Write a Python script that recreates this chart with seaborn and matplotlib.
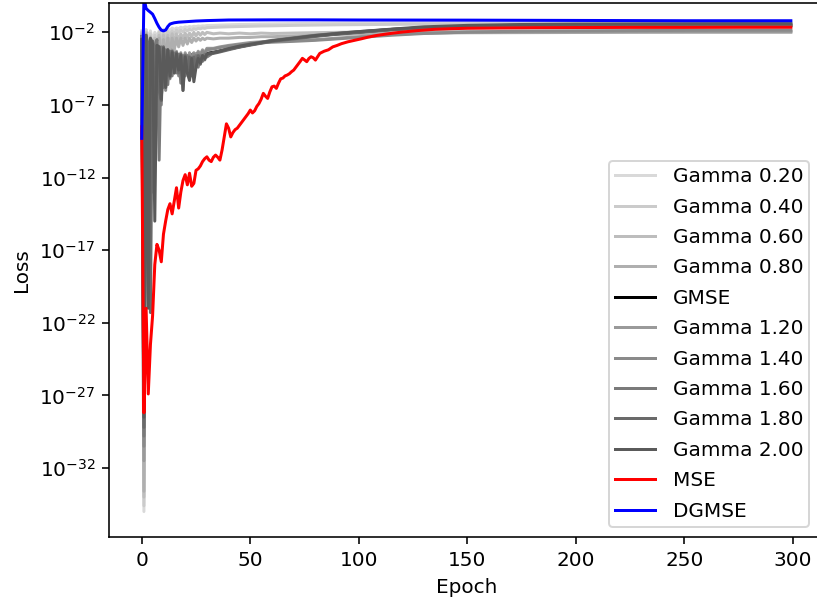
import numpy as np
import pandas as pd
import matplotlib
matplotlib.use("Agg")
import matplotlib.pyplot as plt
from matplotlib.ticker import FixedLocator, NullLocator, LogFormatterSciNotation
import seaborn as sns

# Loss curves are stored as log10(loss) at the listed epochs.
gamma_epochs = list(range(0, 31)) + [33, 36, 40, 45, 50, 55, 60, 70, 80, 90, 100,
                                     115, 130, 150, 175, 200, 225, 250, 275, 299]

gamma_020 = [-1.9, -35.0, -1.8, -2.4, -1.9, -2.6, -2.0, -2.3, -1.9, -2.1, -1.8,
             -2.0, -1.75, -1.9, -1.7, -1.8, -1.7, -1.75, -1.65, -1.7, -1.62,
             -1.66, -1.6, -1.63, -1.58, -1.6, -1.56, -1.58, -1.55, -1.56, -1.53,
             -1.52, -1.5, -1.48, -1.46, -1.45, -1.43, -1.42, -1.4, -1.38, -1.37,
             -1.36, -1.35, -1.34, -1.33, -1.32, -1.32, -1.31, -1.31, -1.3, -1.3]
gamma_040 = [-2.0, -34.6, -1.9, -3.0, -2.1, -3.2, -2.2, -2.9, -2.0, -2.6, -2.0,
             -2.4, -1.95, -2.2, -1.9, -2.1, -1.85, -2.0, -1.85, -1.95, -1.8,
             -1.9, -1.78, -1.85, -1.75, -1.8, -1.72, -1.76, -1.7, -1.73, -1.68,
             -1.66, -1.64, -1.62, -1.6, -1.58, -1.56, -1.55, -1.52, -1.5, -1.48,
             -1.47, -1.45, -1.44, -1.43, -1.42, -1.41, -1.41, -1.4, -1.4, -1.4]
gamma_060 = [-2.1, -34.0, -2.0, -4.0, -2.3, -4.2, -2.4, -3.6, -2.2, -3.3, -2.2,
             -3.0, -2.2, -2.8, -2.1, -2.6, -2.1, -2.5, -2.1, -2.4, -2.05,
             -2.35, -2.05, -2.3, -2.0, -2.25, -2.0, -2.2, -2.0, -2.15, -2.0,
             -2.1, -2.05, -2.1, -2.05, -2.1, -2.05, -2.08, -2.05, -2.02, -2.0,
             -1.98, -1.96, -1.95, -1.93, -1.92, -1.92, -1.91, -1.9, -1.9, -1.9]
gamma_080 = [-2.2, -33.6, -2.1, -6.0, -2.5, -5.5, -2.6, -4.8, -2.4, -4.2, -2.5,
             -3.8, -2.4, -3.5, -2.4, -3.2, -2.4, -3.0, -2.4, -2.9, -2.4,
             -2.8, -2.4, -2.7, -2.4, -2.6, -2.4, -2.55, -2.4, -2.5, -2.4,
             -2.45, -2.4, -2.4, -2.35, -2.35, -2.3, -2.3, -2.25, -2.2, -2.15,
             -2.1, -2.08, -2.05, -2.03, -2.02, -2.01, -2.0, -2.0, -2.0, -2.0]
gmse = [-2.3, -27.5, -2.4, -9.0, -3.0, -8.0, -3.3, -7.0, -3.4, -6.0, -3.5,
        -5.2, -3.6, -4.8, -3.7, -4.5, -3.8, -4.3, -3.8, -4.1, -3.8,
        -3.9, -3.5, -3.6, -3.45, -3.55, -3.4, -3.5, -3.45, -3.5, -3.45,
        -3.38, -3.28, -3.15, -3.0, -2.85, -2.72, -2.6, -2.42, -2.25, -2.1,
        -1.98, -1.8, -1.68, -1.6, -1.55, -1.55, -1.55, -1.55, -1.55, -1.55]
gamma_120 = [-2.3, -31.5, -2.2, -12.0, -2.5, -9.0, -2.8, -8.0, -3.0, -6.5, -3.0,
             -5.8, -3.2, -5.0, -3.2, -4.6, -3.3, -4.5, -3.4, -4.3, -3.4,
             -4.0, -3.4, -3.9, -3.4, -3.7, -3.3, -3.5, -3.2, -3.4, -3.1,
             -3.1, -3.0, -2.9, -2.8, -2.7, -2.65, -2.6, -2.55, -2.5, -2.4,
             -2.3, -2.15, -2.05, -2.0, -1.98, -1.97, -1.96, -1.95, -1.95, -1.95]
gamma_140 = [-2.4, -30.5, -2.3, -14.0, -2.6, -11.0, -2.9, -7.5, -3.0, -7.0, -3.1,
             -6.0, -3.3, -5.2, -3.3, -4.8, -3.4, -5.0, -3.5, -6.0, -3.5,
             -4.5, -3.6, -4.2, -3.5, -4.0, -3.4, -3.7, -3.3, -3.5, -3.2,
             -3.15, -3.05, -2.95, -2.85, -2.78, -2.72, -2.68, -2.62, -2.55, -2.45,
             -2.35, -2.2, -2.08, -1.98, -1.92, -1.9, -1.88, -1.86, -1.85, -1.85]
gamma_160 = [-2.4, -29.8, -2.2, -16.0, -2.8, -13.0, -3.0, -2.5, -10.8, -3.0, -5.8,
             -3.2, -5.6, -3.3, -5.0, -3.4, -4.8, -3.5, -5.5, -3.6, -5.0,
             -3.6, -5.3, -3.7, -4.5, -3.6, -4.4, -3.6, -4.0, -3.5, -3.7,
             -3.4, -3.3, -3.15, -2.95, -2.8, -2.68, -2.55, -2.38, -2.2, -2.06,
             -1.95, -1.8, -1.68, -1.6, -1.55, -1.52, -1.5, -1.5, -1.5, -1.5]
gamma_180 = [-2.5, -29.2, -2.3, -2.8, -21.3, -2.6, -8.5, -2.9, -6.0, -6.7, -3.0,
             -5.0, -3.2, -5.1, -3.3, -4.6, -3.4, -4.8, -3.5, -5.5, -3.6,
             -4.6, -3.7, -5.0, -3.7, -4.4, -3.6, -4.2, -3.6, -3.9, -3.5,
             -3.45, -3.35, -3.2, -3.02, -2.88, -2.75, -2.62, -2.45, -2.28, -2.12,
             -2.0, -1.82, -1.68, -1.58, -1.5, -1.47, -1.46, -1.45, -1.45, -1.45]
gamma_200 = [-2.5, -28.5, -2.2, -21.0, -2.4, -2.8, -15.0, -2.9, -3.0, -6.6, -3.1,
             -5.8, -3.2, -5.0, -3.4, -4.8, -3.5, -4.6, -3.6, -6.0, -3.7,
             -4.8, -5.3, -3.8, -5.4, -4.4, -3.8, -4.1, -3.6, -3.8, -3.5,
             -3.4, -3.3, -3.12, -2.95, -2.82, -2.7, -2.58, -2.4, -2.22, -2.08,
             -1.95, -1.78, -1.62, -1.52, -1.46, -1.43, -1.42, -1.41, -1.4, -1.4]

mse_epochs = list(range(0, 81)) + [82, 84, 86, 88, 90, 92, 95, 98, 101, 104, 108,
                                   112, 116, 120, 127, 135, 142, 150, 165, 180,
                                   200, 225, 250, 275, 299]
mse = [-8.5, -28.2, -21.0, -26.9, -23.5, -21.5, -18.0, -16.6, -17.0, -17.8,
       -15.9, -15.0, -14.2, -13.8, -14.5, -13.6, -12.7, -14.1, -13.0, -12.2,
       -11.8, -12.5, -11.7, -12.6, -12.4, -11.5, -11.4, -11.2, -10.9, -10.7,
       -10.57, -10.8, -10.9, -10.6, -10.45, -10.6, -10.8, -10.1, -9.2, -8.3,
       -8.6, -9.2, -8.9, -8.7, -8.6, -8.4, -8.2, -8.0, -7.8, -7.6,
       -7.35, -7.55, -7.4, -7.1, -6.9, -6.6, -6.2, -6.4, -6.55, -6.1,
       -5.75, -5.7, -5.86, -5.5, -5.2, -5.15, -5.0, -4.94, -4.85, -4.71,
       -4.6, -4.4, -4.2, -4.0, -3.79, -3.9, -4.02, -3.8, -3.68, -3.75,
       -3.91, -3.45, -3.3, -3.2, -3.0, -2.9, -2.78, -2.65, -2.55, -2.45,
       -2.34, -2.22, -2.13, -2.05, -1.98, -1.88, -1.79, -1.75, -1.72, -1.7,
       -1.68, -1.67, -1.66, -1.66, -1.65, -1.65]

dgmse_epochs = [0, 1, 2, 3, 4, 5, 6, 7, 8, 9, 10, 11, 12, 13, 14, 15, 17, 20,
                25, 30, 40, 60, 80, 100, 150, 200, 250, 299]
dgmse = [-9.3, 0.4, -0.35, -0.5, -0.62, -0.75, -1.05, -1.38, -1.65, -1.85,
         -1.9, -1.84, -1.6, -1.43, -1.38, -1.34, -1.3, -1.27, -1.22, -1.19,
         -1.15, -1.14, -1.14, -1.15, -1.16, -1.18, -1.2, -1.2]

series = [
    ("Gamma 0.20", gamma_epochs, gamma_020, "#d9d9d9"),
    ("Gamma 0.40", gamma_epochs, gamma_040, "#cbcbcb"),
    ("Gamma 0.60", gamma_epochs, gamma_060, "#bdbdbd"),
    ("Gamma 0.80", gamma_epochs, gamma_080, "#afafaf"),
    ("GMSE", gamma_epochs, gmse, "#000000"),
    ("Gamma 1.20", gamma_epochs, gamma_120, "#9a9a9a"),
    ("Gamma 1.40", gamma_epochs, gamma_140, "#8a8a8a"),
    ("Gamma 1.60", gamma_epochs, gamma_160, "#7a7a7a"),
    ("Gamma 1.80", gamma_epochs, gamma_180, "#6a6a6a"),
    ("Gamma 2.00", gamma_epochs, gamma_200, "#5a5a5a"),
    ("MSE", mse_epochs, mse, "red"),
    ("DGMSE", dgmse_epochs, dgmse, "blue"),
]

W, H, DPI = 817, 601, 144
fig = plt.figure(figsize=(W / DPI, H / DPI), dpi=DPI)
ax = fig.add_axes([109.3 / W, 1 - 536.7 / H, (823.3 - 109.3) / W, (536.7 - 3.3) / H])
ax.set_yscale("log")

for name, ep, logv, col in series:
    df = pd.DataFrame({"Epoch": ep, "Loss": np.power(10.0, np.array(logv))})
    sns.lineplot(data=df, x="Epoch", y="Loss", color=col, label=name,
                 estimator=None, linewidth=1.5, ax=ax)

ax.set_xlim(-14.95, 313.95)
ax.set_ylim(10 ** -36.73, 10 ** 0.0)
ax.yaxis.set_major_locator(FixedLocator([10.0 ** k for k in range(-32, 0, 5)]))
ax.yaxis.set_major_formatter(LogFormatterSciNotation())
ax.yaxis.set_minor_locator(NullLocator())
ax.set_xticks([0, 50, 100, 150, 200, 250, 300])
ax.set_xlabel("Epoch")
ax.set_ylabel("Loss")
ax.legend(loc="lower right", bbox_to_anchor=(0.9804, 0.0188), borderaxespad=0.0,
          labelspacing=0.57, borderpad=0.3, handletextpad=0.9)

fig.savefig("out.png", dpi=DPI)
